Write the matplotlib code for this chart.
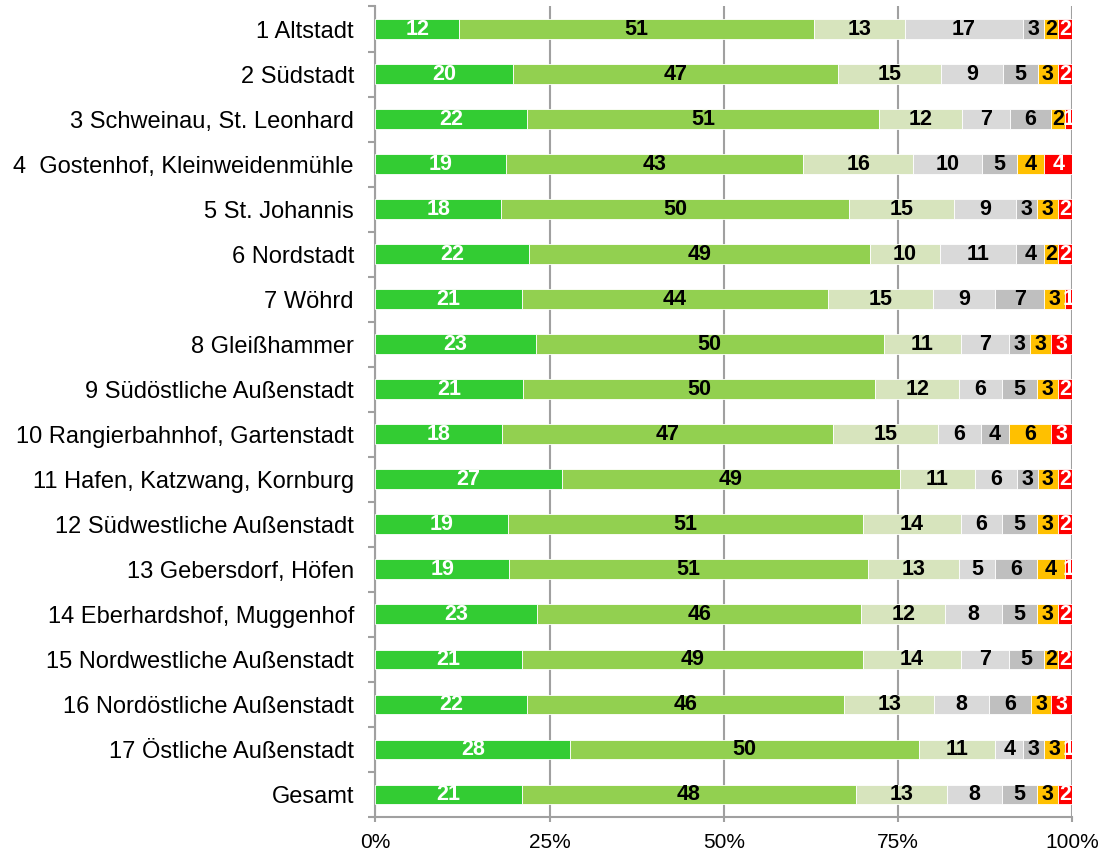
import numpy as np
import matplotlib.pyplot as plt
from matplotlib.ticker import FixedLocator, FixedFormatter

plt.rcParams['font.family'] = ['Liberation Sans', 'DejaVu Sans']

districts = [
    "1 Altstadt", "2 Südstadt", "3 Schweinau, St. Leonhard",
    "4  Gostenhof, Kleinweidenmühle", "5 St. Johannis", "6 Nordstadt",
    "7 Wöhrd", "8 Gleißhammer", "9 Südöstliche Außenstadt",
    "10 Rangierbahnhof, Gartenstadt", "11 Hafen, Katzwang, Kornburg",
    "12 Südwestliche Außenstadt", "13 Gebersdorf, Höfen",
    "14 Eberhardshof, Muggenhof", "15 Nordwestliche Außenstadt",
    "16 Nordöstliche Außenstadt", "17 Östliche Außenstadt", "Gesamt",
]

# seven answer categories, best to worst
cat1 = [12, 20, 22, 19, 18, 22, 21, 23, 21, 18, 27, 19, 19, 23, 21, 22, 28, 21]
cat2 = [51, 47, 51, 43, 50, 49, 44, 50, 50, 47, 49, 51, 51, 46, 49, 46, 50, 48]
cat3 = [13, 15, 12, 16, 15, 10, 15, 11, 12, 15, 11, 14, 13, 12, 14, 13, 11, 13]
cat4 = [17, 9, 7, 10, 9, 11, 9, 7, 6, 6, 6, 6, 5, 8, 7, 8, 4, 8]
cat5 = [3, 5, 6, 5, 3, 4, 7, 3, 5, 4, 3, 5, 6, 5, 5, 6, 3, 5]
cat6 = [2, 3, 2, 4, 3, 2, 3, 3, 3, 6, 3, 3, 4, 3, 2, 3, 3, 3]
cat7 = [2, 2, 1, 4, 2, 2, 1, 3, 2, 3, 2, 2, 1, 2, 2, 3, 1, 2]

colors = ["#33CC33", "#92D050", "#D7E4BD", "#D9D9D9", "#BFBFBF", "#FFC000", "#FF0000"]
text_colors = ["white", "black", "black", "black", "black", "black", "white"]

series = np.array([cat1, cat2, cat3, cat4, cat5, cat6, cat7], dtype=float)
shares = series / series.sum(axis=0) * 100

fig = plt.figure(figsize=(11.01, 8.55), dpi=100)
ax = fig.add_axes([0.341, 0.0444, 0.6327, 0.948])

y = np.arange(len(districts))
left = np.zeros(len(districts))
for i in range(len(series)):
    ax.barh(y, shares[i], left=left, height=0.44, color=colors[i],
            edgecolor="white", linewidth=0.6, zorder=3)
    for j in range(len(districts)):
        ax.text(left[j] + shares[i][j] / 2, y[j], str(int(series[i][j])),
                ha="center", va="center", fontsize=15.5, fontweight="bold",
                color=text_colors[i], zorder=4)
    left += shares[i]

ax.set_xlim(0, 100)
ax.set_ylim(len(districts) - 0.5, -0.5)

ax.set_xticks([0, 25, 50, 75, 100])
ax.set_xticklabels(["0%", "25%", "50%", "75%", "100%"], fontsize=15)
ax.xaxis.grid(True, color="#A0A0A0", linewidth=1.5, zorder=0)
ax.tick_params(axis="x", length=3.6, width=1.5, color="#A0A0A0", pad=8)

ax.yaxis.set_major_locator(FixedLocator(np.arange(-0.5, len(districts), 1)))
ax.yaxis.set_major_formatter(FixedFormatter([""] * (len(districts) + 1)))
ax.yaxis.set_minor_locator(FixedLocator(y))
ax.yaxis.set_minor_formatter(FixedFormatter(districts))
ax.tick_params(axis="y", which="major", length=5, width=1.5, color="#A0A0A0")
ax.tick_params(axis="y", which="minor", length=0, pad=15.5, labelsize=17)

for side in ["top", "right"]:
    ax.spines[side].set_visible(False)
for side in ["left", "bottom"]:
    ax.spines[side].set_color("#A0A0A0")
    ax.spines[side].set_linewidth(1.5)

fig.savefig("out.png", dpi=100)
